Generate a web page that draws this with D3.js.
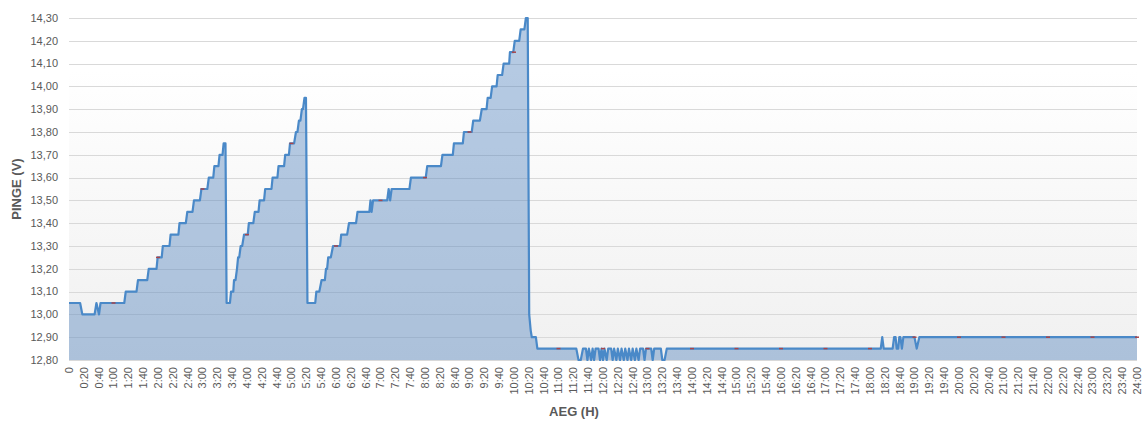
<!DOCTYPE html>
<html>
<head>
<meta charset="utf-8">
<script src="https://cdn.jsdelivr.net/npm/d3@7"></script>
<style>
  html, body { margin: 0; padding: 0; background: #ffffff; }
  svg { display: block; font-family: "Liberation Sans", Arial, sans-serif; }
</style>
</head>
<body>
<svg id="chart" width="1148" height="426"></svg>
<script>
// ---- Data ----
// Line vertices: time in minutes since 0:00, voltage in volts
const timeMinutes = [
  0, 15, 18, 34.5, 37, 40.5, 42.5, 74.5, 76.5, 91, 93, 105.5, 107.5,
  118, 119.5, 125, 126.5, 135.5, 137, 147.5, 149, 157.5, 159.5, 166.5, 168.5,
  176.5, 178.5, 186.5, 188.5, 194.5, 196, 201.5, 203, 207, 208.5, 211,
  212.5, 217, 218.5, 221.5, 222.5, 224.5, 226.5, 228, 229.5, 231.5, 233.5,
  236, 241, 242.5, 248.5, 250.5, 255.5, 257, 263, 264.5, 273, 274.5, 281,
  282.5, 290, 291.5, 296.5, 298, 303.5, 306, 308, 310, 312, 314, 315.5,
  317.5, 319.5,
  321.5, 332, 333.5, 337.5, 340.5, 345, 346.5, 348, 349.5, 353, 356, 365.5,
  367, 375, 377.5, 387, 389, 405, 406.5, 408, 410, 429, 431, 433, 435, 459,
  461, 481, 483, 501.5, 503.5, 517.5, 519, 531, 532.5, 543, 545, 554, 556.5,
  563, 564.5, 568.5, 570.5, 576.5, 578, 584, 586, 593.5, 594.5, 599, 601,
  607, 609, 614, 616, 618.5,
  620.5, 622.5, 624, 629.5, 631.5,
  684, 687, 690, 693, 697, 699, 701, 704, 706, 708, 710, 714, 716, 718, 720,
  722, 725, 727, 731, 733, 735, 738, 740, 743, 745, 748, 750, 753, 755, 758,
  760, 763, 765, 768, 770, 774, 776, 778, 785, 787, 789, 798, 800, 803, 806,
  1094.5, 1096.5, 1098.5, 1110.5, 1112.5, 1114.5, 1116, 1118, 1119.5, 1121,
  1123, 1125, 1140, 1143, 1146.5, 1440
];
const voltage = [
  13.05, 13.05, 13.00, 13.00, 13.05, 13.00, 13.05, 13.05, 13.10, 13.10, 13.15, 13.15, 13.20,
  13.20, 13.25, 13.25, 13.30, 13.30, 13.35, 13.35, 13.40, 13.40, 13.45, 13.45, 13.50,
  13.50, 13.55, 13.55, 13.60, 13.60, 13.65, 13.65, 13.70, 13.70, 13.75, 13.75,
  13.05, 13.05, 13.10, 13.10, 13.15, 13.15, 13.20, 13.25, 13.25, 13.30, 13.30,
  13.35, 13.35, 13.40, 13.40, 13.45, 13.45, 13.50, 13.50, 13.55, 13.55, 13.60, 13.60,
  13.65, 13.65, 13.70, 13.70, 13.75, 13.75, 13.80, 13.80, 13.85, 13.85, 13.90, 13.90,
  13.95, 13.95,
  13.05, 13.05, 13.10, 13.10, 13.15, 13.15, 13.20, 13.20, 13.25, 13.25, 13.30, 13.30,
  13.35, 13.35, 13.40, 13.40, 13.45, 13.45, 13.50, 13.45, 13.50, 13.50, 13.55, 13.50, 13.55, 13.55,
  13.60, 13.60, 13.65, 13.65, 13.70, 13.70, 13.75, 13.75, 13.80, 13.80, 13.85, 13.85, 13.90,
  13.90, 13.95, 13.95, 14.00, 14.00, 14.05, 14.05, 14.10, 14.10, 14.15, 14.15, 14.20,
  14.20, 14.25, 14.25, 14.30, 14.30,
  13.00, 12.93, 12.90, 12.90, 12.85,
  12.85, 12.80, 12.80, 12.85, 12.85, 12.80, 12.85, 12.80, 12.85, 12.80, 12.85, 12.85, 12.80, 12.85, 12.80,
  12.85, 12.80, 12.85, 12.85, 12.80, 12.85, 12.80, 12.85, 12.80, 12.85, 12.80, 12.85, 12.80, 12.85, 12.80,
  12.85, 12.80, 12.85, 12.80, 12.85, 12.85, 12.80, 12.85, 12.85, 12.80, 12.85, 12.85, 12.80, 12.80, 12.85,
  12.85, 12.90, 12.85, 12.85, 12.90, 12.90, 12.85, 12.85, 12.90, 12.90,
  12.85, 12.90, 12.90, 12.85, 12.90, 12.90
];
// Hourly red markers
const markerMinutes = [60, 120, 180, 240, 300, 360, 420, 480, 540, 600, 660, 720,
  780, 840, 900, 960, 1020, 1080, 1140, 1200, 1260, 1320, 1380, 1440];
const markerVoltage = [13.05, 13.25, 13.55, 13.35, 13.75, 13.30, 13.50, 13.60, 13.80, 14.15, 12.85, 12.85,
  12.85, 12.85, 12.85, 12.85, 12.85, 12.85, 12.90, 12.90, 12.90, 12.90, 12.90, 12.90];
// Axis ticks
const yTicks = [12.8, 12.9, 13.0, 13.1, 13.2, 13.3, 13.4, 13.5, 13.6, 13.7, 13.8, 13.9, 14.0, 14.1, 14.2, 14.3];
const xTickMinutes = d3.range(0, 1441, 20);
const xTickLabels = xTickMinutes.map(m => m === 0 ? "0" : Math.floor(m / 60) + ":" + String(m % 60).padStart(2, "0"));
const yTitle = "PINGE (V)";
const xTitle = "AEG (H)";

// ---- Drawing ----
(function () {
  const svg = d3.select("#chart");
  const pLeft = 69, pRight = 1137, pTop = 18, pBottom = 360;
  const x = d3.scaleLinear().domain([0, 1440]).range([pLeft, pRight]);
  const y = d3.scaleLinear().domain([12.8, 14.3]).range([pBottom, pTop]);

  const defs = svg.append("defs");
  const grad = defs.append("linearGradient").attr("id", "bg").attr("x1", 0).attr("y1", 0).attr("x2", 0).attr("y2", 1);
  grad.append("stop").attr("offset", "0%").attr("stop-color", "#ffffff");
  grad.append("stop").attr("offset", "15%").attr("stop-color", "#ffffff");
  grad.append("stop").attr("offset", "100%").attr("stop-color", "#f0f0f0");

  svg.append("rect").attr("x", pLeft).attr("y", pTop).attr("width", pRight - pLeft).attr("height", pBottom - pTop)
    .attr("fill", "url(#bg)");

  // gridlines
  svg.append("g").selectAll("line").data(yTicks).join("line")
    .attr("x1", pLeft).attr("x2", pRight)
    .attr("y1", d => Math.round(y(d)) + 0.5).attr("y2", d => Math.round(y(d)) + 0.5)
    .attr("stroke", "#d9d9d9").attr("stroke-width", 1);

  const data = timeMinutes.map((t, i) => ({ t, v: voltage[i] }));

  const area = d3.area().x(d => x(d.t)).y0(y(12.8)).y1(d => y(d.v));
  svg.append("path").datum(data).attr("d", area)
    .attr("fill", "#4f81bd").attr("fill-opacity", 0.42);

  const line = d3.line().x(d => x(d.t)).y(d => y(d.v));
  svg.append("path").datum(data).attr("d", line)
    .attr("fill", "none").attr("stroke", "#4a89c8").attr("stroke-width", 2.2)
    .attr("stroke-linejoin", "round");

  // hourly markers
  svg.append("g").selectAll("line").data(markerMinutes.map((t, i) => ({ t, v: markerVoltage[i] }))).join("line")
    .attr("x1", d => x(d.t) - 2).attr("x2", d => x(d.t) + 2)
    .attr("y1", d => y(d.v)).attr("y2", d => y(d.v))
    .attr("stroke", "#a8454a").attr("stroke-width", 1.5);

  // y axis labels
  svg.append("g").selectAll("text").data(yTicks).join("text")
    .attr("x", 58).attr("y", d => y(d)).attr("dy", "0.35em")
    .attr("text-anchor", "end").attr("font-size", 11).attr("fill", "#595959")
    .text(d => d.toFixed(2).replace(".", ","));

  // x axis labels
  svg.append("g").selectAll("text").data(xTickMinutes).join("text")
    .attr("transform", d => `translate(${x(d)},367) rotate(-90)`)
    .attr("dy", "0.35em").attr("text-anchor", "end")
    .attr("font-size", 11).attr("fill", "#595959")
    .text((d, i) => xTickLabels[i]);

  // axis titles
  svg.append("text").attr("transform", `translate(21,${(pTop + pBottom) / 2}) rotate(-90)`)
    .attr("text-anchor", "middle").attr("font-size", 13).attr("font-weight", "bold").attr("fill", "#595959")
    .text(yTitle);
  svg.append("text").attr("x", 574).attr("y", 416)
    .attr("text-anchor", "middle").attr("font-size", 13).attr("font-weight", "bold").attr("fill", "#595959")
    .text(xTitle);
})();
</script>
</body>
</html>
